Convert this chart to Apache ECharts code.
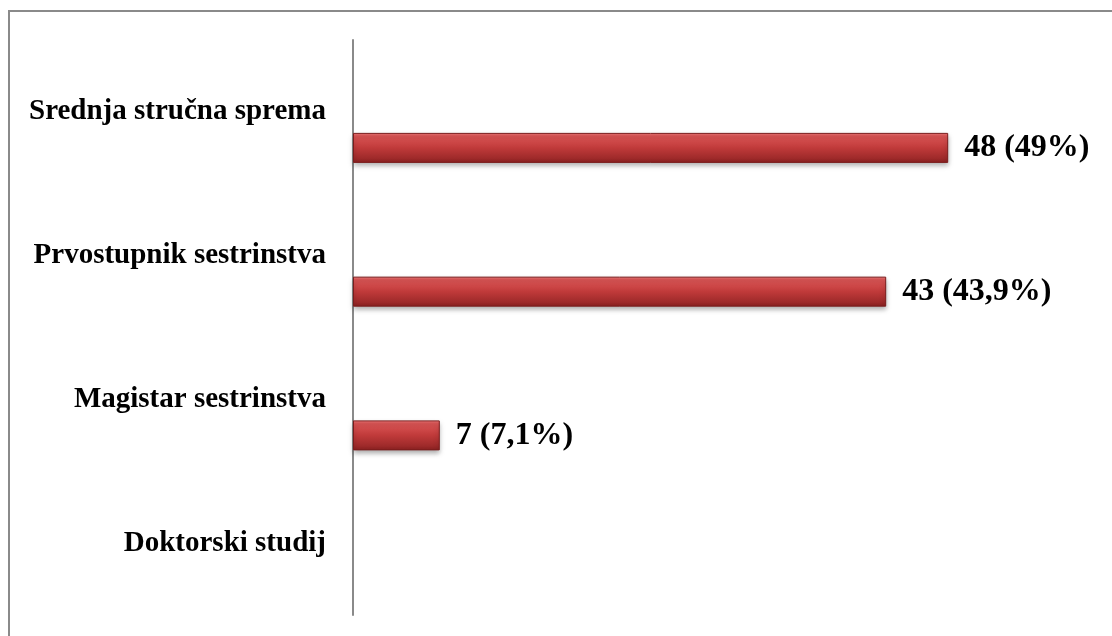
<!DOCTYPE html>
<html>
<head>
<meta charset="utf-8">
<script src="https://cdn.jsdelivr.net/npm/echarts@6/dist/echarts.min.js"></script>
<style>
  html, body { margin: 0; padding: 0; background: #fff; overflow: hidden; }
  #frame { position: absolute; left: 8px; top: 10px; width: 1200px; height: 700px; border: 2px solid #8a8a8a; box-sizing: border-box; }
  #chart { position: absolute; left: 0; top: 0; width: 1112px; height: 636px; }
</style>
</head>
<body>
<div id="frame"></div>
<div id="chart"></div>
<script>
const categories = ['Srednja stručna sprema', 'Prvostupnik sestrinstva', 'Magistar sestrinstva', 'Doktorski studij'];
const counts = [48, 43, 7, 0];
const valueLabels = ['48 (49%)', '43 (43,9%)', '7 (7,1%)', ''];

const chart = echarts.init(document.getElementById('chart'), null, { renderer: 'canvas' });

const barGradient = new echarts.graphic.LinearGradient(0, 0, 0, 1, [
  { offset: 0, color: '#ee7c7c' },
  { offset: 0.1, color: '#dc5656' },
  { offset: 0.5, color: '#c03a3a' },
  { offset: 0.85, color: '#9e2a2a' },
  { offset: 1, color: '#882020' }
]);

chart.setOption({
  animation: false,
  grid: { left: 353, right: 15, top: 40, bottom: 21, containLabel: false },
  xAxis: {
    type: 'value', min: 0, max: 60,
    show: false
  },
  yAxis: {
    type: 'category',
    inverse: true,
    data: categories,
    axisLine: { show: true, lineStyle: { color: '#8a8a8a', width: 2 } },
    axisTick: { show: false },
    splitLine: { show: false },
    axisLabel: {
      margin: 27,
      fontFamily: 'Liberation Serif',
      fontWeight: 'bold',
      fontSize: 29,
      color: '#000'
    }
  },
  series: [
    {
      type: 'bar',
      data: counts.map(() => 0),
      barWidth: 30,
      barGap: '140%',
      itemStyle: { color: 'transparent', borderWidth: 0 },
      silent: true
    },
    {
      type: 'bar',
      data: counts.map(v => v === 0
        ? { value: v, itemStyle: { opacity: 0 } }
        : { value: v }),
      barWidth: 30,
      barGap: '140%',
      itemStyle: {
        color: barGradient,
        borderColor: '#7a1c1c',
        borderWidth: 1,
        shadowColor: 'rgba(0,0,0,0.35)',
        shadowBlur: 5,
        shadowOffsetY: 3
      },
      label: {
        show: true,
        position: 'right',
        distance: 16,
        formatter: p => valueLabels[p.dataIndex],
        fontFamily: 'Liberation Serif',
        fontWeight: 'bold',
        fontSize: 32,
        color: '#000'
      }
    }
  ]
});
</script>
</body>
</html>
